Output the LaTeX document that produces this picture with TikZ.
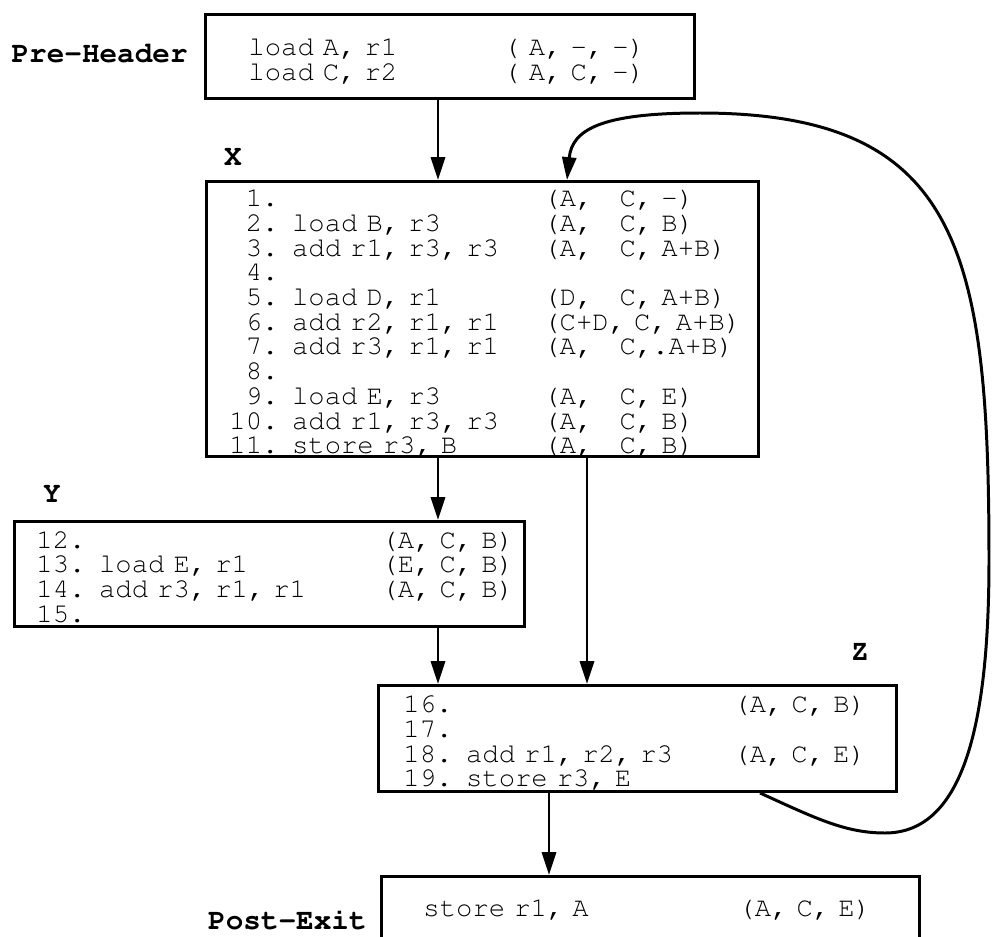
\documentclass[tikz,border=0pt]{standalone}
\usepackage[T1]{fontenc}
\usepackage{tikz}
\usetikzlibrary{arrows.meta, positioning, calc}
\newcommand{\codefont}{\fontfamily{pcr}\fontseries{m}\fontsize{15.5}{13.83}\selectfont
    \spaceskip=\fontcharwd\font`0\relax\xspaceskip=\spaceskip}
\newcommand{\lblfont}{\fontfamily{pcr}\fontseries{b}\fontsize{16.7}{18}\selectfont}
\newcommand{\lpad}{\hphantom{0}}

\begin{document}
\begin{tikzpicture}[x=0.02cm, y=-0.02cm,
    >={Triangle[length=13pt, width=8pt]},
    blk/.style={draw, line width=1.7pt, anchor=north west, align=left, font=\codefont},
    lbl/.style={font=\lblfont, inner sep=0pt},
    flow/.style={->, line width=1.7pt}
]
    \useasboundingbox (0,0) rectangle (992,937);

    % basic blocks
    \node (pre) [blk, minimum width=9.78cm, minimum height=1.68cm, inner xsep=0.86cm, text width=8.06cm] at (204,13) {%
        \begin{tabular}{@{}p{5.1cm}@{}l@{}}
        load A, r1 & ( A, -, -)\\
        load C, r2 & ( A, C, -)\\[-7pt]
        \end{tabular}};
    \node (xblk) [blk, minimum width=11.04cm, minimum height=5.5cm, inner xsep=0.46cm, text width=10.12cm] at (205,180) {%
        \begin{tabular}{@{}p{6.28cm}@{}l@{}}
        \lpad 1. & (A,~~~C, -)\\
        \lpad 2. load B, r3 & (A,~~~C, B)\\
        \lpad 3. add r1, r3, r3 & (A,~~~C, A+B)\\
        \lpad 4. & \\
        \lpad 5. load D, r1 & (D,~~~C, A+B)\\
        \lpad 6. add r2, r1, r1 & (C+D, C, A+B)\\
        \lpad 7. add r3, r1, r1 & (A,~~~C,.A+B)\\
        \lpad 8. & \\
        \lpad 9. load E, r3 & (A,~~~C, E)\\
        10. add r1, r3, r3 & (A,~~~C, B)\\
        11. store r3, B & (A,~~~C, B)\\[-7pt]
        \end{tabular}};
    \node (yblk) [blk, minimum width=10.2cm, minimum height=2.1cm, inner xsep=0.44cm, text width=9.32cm] at (13,520) {%
        \begin{tabular}{@{}p{6.9cm}@{}l@{}}
        12. & (A, C, B)\\
        13. load E, r1 & (E, C, B)\\
        14. add r3, r1, r1 & (A, C, B)\\
        15. & \\[-7pt]
        \end{tabular}};
    \node (zblk) [blk, minimum width=10.36cm, minimum height=2.12cm, inner xsep=0.5cm, text width=9.36cm] at (377,684) {%
        \begin{tabular}{@{}p{6.6cm}@{}l@{}}
        16. & (A, C, B)\\
        17. & \\
        18. add r1, r2, r3 & (A, C, E)\\
        19. store r3, E & \\[-7pt]
        \end{tabular}};
    \node (post) [blk, minimum width=10.76cm, minimum height=1.4cm, inner xsep=0.84cm, text width=9.08cm] at (380,875) {%
        \begin{tabular}{@{}p{6.3cm}@{}l@{}}
        store r1, A & (A, C, E)
        \end{tabular}};

    % block names
    \node (prelbl) [lbl, left=0.32cm of pre, yshift=0.06cm] {Pre-Header};
    \node (xlbl) [lbl] at (233,157) {X};
    \node (ylbl) [lbl] at (52,494) {Y};
    \node (zlbl) [lbl] at (860,652) {Z};
    \node (postlbl) [lbl, left=0.26cm of post, yshift=-0.18cm] {Post-Exit};

    % arrow columns
    \coordinate (colA) at (438,0);
    \coordinate (colB) at (587,0);
    \coordinate (colC) at (549,0);
    \coordinate (backout) at (760,0);
    \coordinate (backin) at (567,0);

    \draw [flow] (pre.south -| colA) -- (xblk.north -| colA);
    \draw [flow] (xblk.south -| colA) -- (yblk.north -| colA);
    \draw [flow] (xblk.south -| colB) -- (zblk.north -| colB);
    \draw [flow] (yblk.south -| colA) -- (zblk.north -| colA);
    \draw [flow] (zblk.south -| colC) -- (post.north -| colC);

    % back edge of the loop
    \draw [flow] (zblk.south -| backout) .. controls (815,818) and (845,833) .. (885,833)
        .. controls (965,833) and (989,720) .. (989,560)
        .. controls (989,250) and (960,113) .. (700,113)
        .. controls (600,113) and (572,130) .. (xblk.north -| backin);
\end{tikzpicture}
\end{document}
